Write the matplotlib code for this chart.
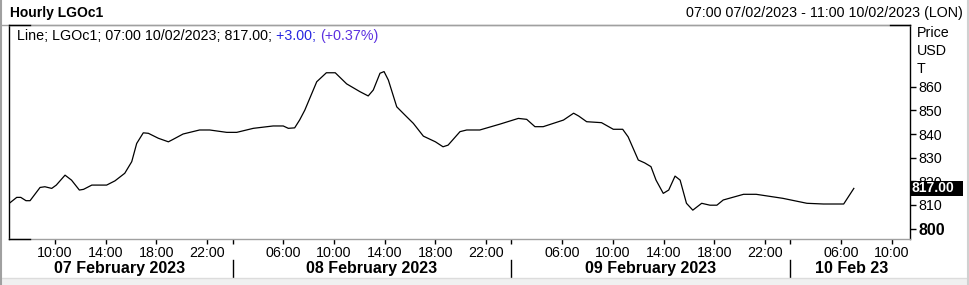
import matplotlib
matplotlib.use("Agg")
import matplotlib.pyplot as plt
from matplotlib import transforms
from matplotlib.patches import Rectangle
from matplotlib.lines import Line2D

plt.rcParams['font.family'] = ['Liberation Sans', 'DejaVu Sans']

# ---- data (x = trading-hour position, 07 Feb 01:00 = 0, 22 trading hours per day) ----
hour_pos = [5.37, 5.98, 6.3, 6.71, 7.03, 7.82, 8.2, 8.74, 9.1, 9.79, 10.3, 10.92, 11.25, 11.9,
            13.07, 13.73, 14.5, 15.05, 15.44, 15.96, 16.36, 17.15, 17.94, 18.3, 19.1, 20.4,
            21.2, 22.54, 23.33, 24.64, 26.2, 27.0, 27.4, 27.9, 28.3, 28.7, 29.64, 30.4, 31.1,
            32.0, 33.05, 33.7, 34.1, 34.63, 34.95, 35.29, 35.95, 36.6, 37.26, 38.05, 39.0,
            39.6, 40.0, 40.94, 41.47, 42.5, 44.1, 45.54, 46.2, 46.85, 47.5, 49.1, 49.9, 50.3,
            50.93, 52.1, 53.03, 53.77, 54.2, 55.0, 55.5, 56.0, 56.4, 56.97, 57.4, 57.9, 58.3,
            58.8, 59.3, 60.0, 60.65, 61.2, 61.7, 63.3, 64.3, 66.4, 68.3, 69.6, 71.2, 72.0]
price = [810.6, 813.2, 813.2, 811.8, 811.8, 817.4, 817.7, 817.0, 818.4, 822.6, 820.5, 816.3,
         816.6, 818.4, 818.4, 820.2, 823.4, 828.3, 836.0, 840.5, 840.3, 838.2, 836.7, 837.7,
         840.0, 841.7, 841.7, 840.7, 840.7, 842.4, 843.4, 843.4, 842.4, 842.6, 846.0, 850.1,
         862.1, 865.9, 865.9, 861.2, 857.9, 856.1, 858.6, 865.7, 866.4, 862.8, 851.5, 848.0,
         844.5, 839.1, 836.7, 834.6, 835.3, 841.0, 841.7, 841.7, 844.2, 846.6, 846.2, 843.1,
         843.1, 845.9, 848.8, 847.6, 845.2, 844.8, 842.0, 842.0, 838.8, 829.0, 827.8, 826.2,
         820.5, 814.9, 816.3, 822.2, 820.5, 810.7, 807.8, 810.7, 809.9, 809.9, 812.1, 814.5,
         814.5, 812.8, 810.7, 810.4, 810.4, 817.0]

xtick_pos = [9, 13, 17, 21, 23, 27, 31, 35, 39, 43, 45, 49, 53, 57, 61, 65, 67, 71, 75]
xtick_labels = ['10:00', '14:00', '18:00', '22:00', '', '06:00', '10:00', '14:00', '18:00',
                '22:00', '', '06:00', '10:00', '14:00', '18:00', '22:00', '', '06:00', '10:00']
day_bounds = [23, 45, 67]
day_labels = ['07 February 2023', '08 February 2023', '09 February 2023', '10 Feb 23']
day_centers = [14.1, 34.0, 56.0, 71.8]
ytick_vals = [800, 810, 820, 830, 840, 850, 860]
ytick_labels = ['800', '810', '820', '830', '840', '850', '860']
last_price = 817.00
title = 'Hourly LGOc1'
range_text = '07:00 07/02/2023 - 11:00 10/02/2023 (LON)'
legend_parts = [('Line; LGOc1; 07:00 10/02/2023; 817.00; ', 'black'),
                ('+3.00; ', '#2626e0'), ('(+0.37%)', '#5b30e0')]
unit_lines = ['Price', 'USD', 'T']

FS = 10.3
W, H = 969, 285
def fx(px):
    return px / W
def fy(py):
    return 1 - py / H

fig = plt.figure(figsize=(W / 100, H / 100), dpi=100)
fig.patch.set_facecolor('white')

L, R, T, B = 9, 910, 25, 239
ax = fig.add_axes([fx(L), fy(B), (R - L) / W, (B - T) / H])
ax.plot(hour_pos, price, color='black', lw=0.9, solid_joinstyle='round')
ax.set_xlim(5.37, 76.43)
ax.set_ylim(795.6, 886.1)

for s in ['top', 'bottom']:
    ax.spines[s].set_color('#a0a0a0')
for s in ['left', 'right']:
    ax.spines[s].set_color('black')
for s in ax.spines.values():
    s.set_linewidth(1.0)

ax.yaxis.tick_right()
ax.set_yticks(ytick_vals, ytick_labels)
ax.tick_params(axis='y', direction='out', length=4, width=1, pad=2, labelsize=FS, colors='black')
for lab in ax.get_yticklabels():
    if lab.get_text() == '800':
        lab.set_fontweight('bold')
        lab.set_fontsize(11.5)

ax.set_xticks(xtick_pos, xtick_labels)
ax.tick_params(axis='x', direction='out', length=3.5, width=1, pad=1.5, labelsize=FS, colors='black')

# price box
btr = transforms.blended_transform_factory(fig.transFigure, ax.transData)
ax.add_patch(Rectangle((fx(911), last_price - 3.3), fx(963) - fx(911), 6.6, transform=btr,
                       facecolor='black', edgecolor='none', clip_on=False, zorder=10))
ax.text(fx(912), last_price, f'{last_price:.2f}', transform=btr, color='white', fontsize=10,
        fontweight='bold', va='center', ha='left', clip_on=False, zorder=11)

# day labels and separators
dtr = transforms.blended_transform_factory(ax.transData, fig.transFigure)
for c, t in zip(day_centers, day_labels):
    ax.text(c, fy(268.5), t, transform=dtr, ha='center', va='center', fontsize=11.5,
            fontweight='bold', clip_on=False)
for b in day_bounds:
    ax.add_line(Line2D([b, b], [fy(260), fy(278)], transform=dtr, color='black', lw=1,
                       clip_on=False))

# frame decorations
fig.add_artist(Line2D([0, fx(R)], [fy(24.5), fy(24.5)], color='#a0a0a0', lw=1))
for (x0, x1, y) in [(L, 30, 25), (L, 30, 239), (890, R, 25)]:
    fig.add_artist(Line2D([fx(x0), fx(x1)], [fy(y), fy(y)], color='black', lw=1))
fig.add_artist(Rectangle((0, 0), 1, fy(278), transform=fig.transFigure,
                         facecolor='#f0f0f0', edgecolor='none'))
fig.add_artist(Line2D([0, 1], [fy(278), fy(278)], color='#dcdcdc', lw=1))
fig.add_artist(Line2D([fx(1), fx(1)], [0, 1], color='#a0a0a0', lw=1.5))
fig.add_artist(Line2D([fx(967.5), fx(967.5)], [0, 1], color='#d0d0d0', lw=1.5))

# header texts
fig.text(fx(10), fy(13), title, fontsize=10, fontweight='bold', va='center', ha='left')
fig.text(fx(963), fy(13), range_text, fontsize=FS, va='center', ha='right')
for i, u in enumerate(unit_lines):
    fig.text(fx(917), fy(33 + 18 * i), u, fontsize=FS, va='center', ha='left')

renderer = fig.canvas.get_renderer()
xcur = 17
for txt, col in legend_parts:
    t = fig.text(fx(xcur), fy(36), txt, fontsize=FS, color=col, va='center', ha='left')
    bb = t.get_window_extent(renderer=renderer)
    xcur += bb.width

fig.savefig('out.png', dpi=100)
